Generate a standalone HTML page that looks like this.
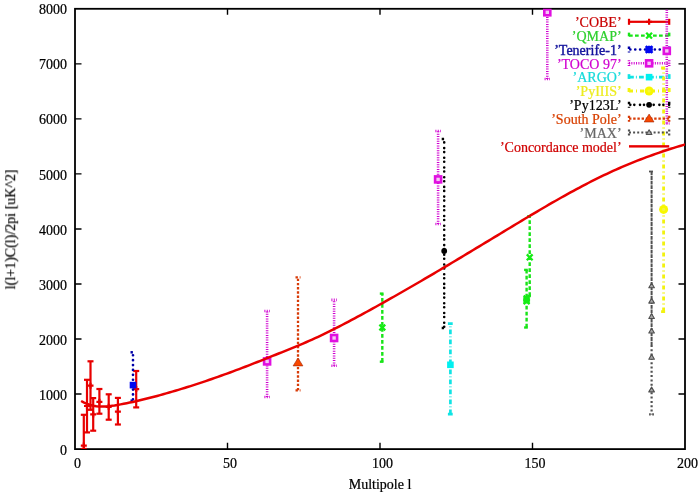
<!DOCTYPE html>
<html><head><meta charset="utf-8"><title>CMB power spectrum</title>
<style>html,body{margin:0;padding:0;background:#fff;}svg{display:block;}text{will-change:transform;}</style>
</head><body>
<svg width="700" height="496" viewBox="0 0 700 496">
<rect width="700" height="496" fill="#ffffff"/>
<defs><clipPath id="pc"><rect x="75.0" y="8.8" width="610.0" height="440.3"/></clipPath></defs>
<g stroke="#000" fill="none">
<path d="M75.0,394.06H81.5M685.0,394.06H678.5" stroke-width="1.4"/>
<path d="M75.0,339.03H81.5M685.0,339.03H678.5" stroke-width="1.4"/>
<path d="M75.0,283.99H81.5M685.0,283.99H678.5" stroke-width="1.4"/>
<path d="M75.0,228.95H81.5M685.0,228.95H678.5" stroke-width="1.4"/>
<path d="M75.0,173.91H81.5M685.0,173.91H678.5" stroke-width="1.4"/>
<path d="M75.0,118.88H81.5M685.0,118.88H678.5" stroke-width="1.4"/>
<path d="M75.0,63.84H81.5M685.0,63.84H678.5" stroke-width="1.4"/>
<path d="M227.50,449.1V442.8M227.50,8.8V14.8" stroke-width="1.4"/>
<path d="M380.00,449.1V442.8M380.00,8.8V14.8" stroke-width="1.4"/>
<path d="M532.50,449.1V442.8M532.50,8.8V14.8" stroke-width="1.4"/>
<rect x="75.0" y="8.8" width="610.0" height="440.3" stroke-width="1.8"/>
</g>
<g font-family='"Liberation Serif", serif' font-size="14" fill="#000" stroke="#000" stroke-width="0.22">
<text x="67.1" y="454.70" text-anchor="end">0</text>
<text x="67.1" y="399.66" text-anchor="end">1000</text>
<text x="67.1" y="344.63" text-anchor="end">2000</text>
<text x="67.1" y="289.59" text-anchor="end">3000</text>
<text x="67.1" y="234.55" text-anchor="end">4000</text>
<text x="67.1" y="179.51" text-anchor="end">5000</text>
<text x="67.1" y="124.47" text-anchor="end">6000</text>
<text x="67.1" y="69.44" text-anchor="end">7000</text>
<text x="67.1" y="14.40" text-anchor="end">8000</text>
<text x="77.40" y="468.0" text-anchor="middle">0</text>
<text x="229.90" y="468.0" text-anchor="middle">50</text>
<text x="382.40" y="468.0" text-anchor="middle">100</text>
<text x="534.90" y="468.0" text-anchor="middle">150</text>
<text x="687.40" y="468.0" text-anchor="middle">200</text>
<text x="380" y="488.6" text-anchor="middle">Multipole l</text>
<text transform="translate(15.2,229.4) rotate(-90)" x="0" y="0" text-anchor="middle">l(l+1)C(l)/2pi [uK^2]</text>
</g>
<text x="621.6" y="27.10" text-anchor="end" font-family='"Liberation Serif", serif' font-size="14" fill="#c80000" stroke="#c80000" stroke-width="0.22">’COBE’</text>
<rect x="629" y="20.7" width="40.2" height="2.2" fill="#e80000"/>
<rect x="627.9" y="18.8" width="2.2" height="6" fill="#e80000"/>
<rect x="668.1" y="18.8" width="2.2" height="6" fill="#e80000"/>
<path d="M646.1,21.8H652.1M649.1,18.8V24.8" stroke="#e80000" stroke-width="2.2" fill="none"/>
<g clip-path="url(#pc)">
<rect x="82.7" y="414.8" width="2.2" height="34.2" fill="#e80000"/>
<rect x="80.8" y="413.7" width="6" height="2.2" fill="#e80000"/>
<rect x="80.8" y="447.9" width="6" height="2.2" fill="#e80000"/>
<path d="M80.8,445.6H86.8M83.8,442.6V448.6" stroke="#e80000" stroke-width="2.2" fill="none"/>
<rect x="85.9" y="379.8" width="2.2" height="52.6" fill="#e80000"/>
<rect x="84" y="378.7" width="6" height="2.2" fill="#e80000"/>
<rect x="84" y="431.3" width="6" height="2.2" fill="#e80000"/>
<path d="M84,406H90M87,403V409" stroke="#e80000" stroke-width="2.2" fill="none"/>
<rect x="89.4" y="361.3" width="2.2" height="48.5" fill="#e80000"/>
<rect x="87.5" y="360.2" width="6" height="2.2" fill="#e80000"/>
<rect x="87.5" y="408.7" width="6" height="2.2" fill="#e80000"/>
<path d="M87.5,385.7H93.5M90.5,382.7V388.7" stroke="#e80000" stroke-width="2.2" fill="none"/>
<rect x="92.1" y="398.1" width="2.2" height="32.6" fill="#e80000"/>
<rect x="90.2" y="397" width="6" height="2.2" fill="#e80000"/>
<rect x="90.2" y="429.6" width="6" height="2.2" fill="#e80000"/>
<path d="M90.2,414.4H96.2M93.2,411.4V417.4" stroke="#e80000" stroke-width="2.2" fill="none"/>
<rect x="98.3" y="389" width="2.2" height="24.7" fill="#e80000"/>
<rect x="96.4" y="387.9" width="6" height="2.2" fill="#e80000"/>
<rect x="96.4" y="412.6" width="6" height="2.2" fill="#e80000"/>
<path d="M96.4,401.8H102.4M99.4,398.8V404.8" stroke="#e80000" stroke-width="2.2" fill="none"/>
<rect x="107.6" y="394.3" width="2.2" height="25.4" fill="#e80000"/>
<rect x="105.7" y="393.2" width="6" height="2.2" fill="#e80000"/>
<rect x="105.7" y="418.6" width="6" height="2.2" fill="#e80000"/>
<path d="M105.7,406.8H111.7M108.7,403.8V409.8" stroke="#e80000" stroke-width="2.2" fill="none"/>
<rect x="116.8" y="397.9" width="2.2" height="26.6" fill="#e80000"/>
<rect x="114.9" y="396.8" width="6" height="2.2" fill="#e80000"/>
<rect x="114.9" y="423.4" width="6" height="2.2" fill="#e80000"/>
<path d="M114.9,411.6H120.9M117.9,408.6V414.6" stroke="#e80000" stroke-width="2.2" fill="none"/>
<rect x="135.1" y="371" width="2.2" height="36.4" fill="#e80000"/>
<rect x="133.2" y="369.9" width="6" height="2.2" fill="#e80000"/>
<rect x="133.2" y="406.3" width="6" height="2.2" fill="#e80000"/>
<path d="M133.2,389.1H139.2M136.2,386.1V392.1" stroke="#e80000" stroke-width="2.2" fill="none"/>
</g>
<text x="621.6" y="40.94" text-anchor="end" font-family='"Liberation Serif", serif' font-size="14" fill="#2ed02e" stroke="#2ed02e" stroke-width="0.22">’QMAP’</text>
<path d="M629,34.44h3.7v2.4h-3.7zM635,34.44h3.7v2.4h-3.7zM641,34.44h3.7v2.4h-3.7zM647,34.44h3.7v2.4h-3.7zM653,34.44h3.7v2.4h-3.7zM659,34.44h3.7v2.4h-3.7zM665,34.44h3.7v2.4h-3.7z" fill="#18e418"/>
<path d="M627.8,32.64h2.4v3.7h-2.4z" fill="#18e418"/>
<path d="M668,32.64h2.4v3.7h-2.4z" fill="#18e418"/>
<path d="M646.2,32.74L652,38.54M646.2,38.54L652,32.74" stroke="#14ec14" stroke-width="2.3" fill="none"/>
<g clip-path="url(#pc)">
<path d="M381.1,358h2.4v3.7h-2.4zM381.1,352h2.4v3.7h-2.4zM381.1,346h2.4v3.7h-2.4zM381.1,340h2.4v3.7h-2.4zM381.1,334h2.4v3.7h-2.4zM381.1,328h2.4v3.7h-2.4zM381.1,322h2.4v3.7h-2.4zM381.1,316h2.4v3.7h-2.4zM381.1,310h2.4v3.7h-2.4zM381.1,304h2.4v3.7h-2.4zM381.1,298h2.4v3.7h-2.4zM381.1,293.6h2.4v2.1h-2.4z" fill="#18e418"/>
<path d="M379.8,292.4h3.7v2.4h-3.7z" fill="#18e418"/>
<path d="M379.8,360.5h3.7v2.4h-3.7z" fill="#18e418"/>
<path d="M379.4,324.6L385.2,330.4M379.4,330.4L385.2,324.6" stroke="#14ec14" stroke-width="2.3" fill="none"/>
<path d="M528.5,292.3h2.4v3.7h-2.4zM528.5,286.3h2.4v3.7h-2.4zM528.5,280.3h2.4v3.7h-2.4zM528.5,274.3h2.4v3.7h-2.4zM528.5,268.3h2.4v3.7h-2.4zM528.5,262.3h2.4v3.7h-2.4zM528.5,256.3h2.4v3.7h-2.4zM528.5,250.3h2.4v3.7h-2.4zM528.5,244.3h2.4v3.7h-2.4zM528.5,238.3h2.4v3.7h-2.4zM528.5,232.3h2.4v3.7h-2.4zM528.5,226.3h2.4v3.7h-2.4zM528.5,220.3h2.4v3.7h-2.4zM528.5,216.3h2.4v1.7h-2.4z" fill="#18e418"/>
<path d="M527.2,215.1h3.7v2.4h-3.7z" fill="#18e418"/>
<path d="M527.2,294.8h3.7v2.4h-3.7z" fill="#18e418"/>
<path d="M526.8,254.4L532.6,260.2M526.8,260.2L532.6,254.4" stroke="#14ec14" stroke-width="2.3" fill="none"/>
<path d="M525.4,323.8h2.4v3.7h-2.4zM525.4,317.8h2.4v3.7h-2.4zM525.4,311.8h2.4v3.7h-2.4zM525.4,305.8h2.4v3.7h-2.4zM525.4,299.8h2.4v3.7h-2.4zM525.4,293.8h2.4v3.7h-2.4zM525.4,287.8h2.4v3.7h-2.4zM525.4,281.8h2.4v3.7h-2.4zM525.4,275.8h2.4v3.7h-2.4zM525.4,269.9h2.4v3.6h-2.4z" fill="#18e418"/>
<path d="M524.1,268.7h3.7v2.4h-3.7z" fill="#18e418"/>
<path d="M524.1,326.3h3.7v2.4h-3.7z" fill="#18e418"/>
<path d="M523.7,297.1L529.5,302.9M523.7,302.9L529.5,297.1" stroke="#14ec14" stroke-width="2.3" fill="none"/>
</g>
<text x="621.6" y="54.78" text-anchor="end" font-family='"Liberation Serif", serif' font-size="14" fill="#12129c" stroke="#12129c" stroke-width="0.4">’Tenerife-1’</text>
<path d="M630.35,49.48h0M635.25,49.48h0M640.15,49.48h0M645.05,49.48h0M649.95,49.48h0M654.85,49.48h0M659.75,49.48h0M664.65,49.48h0" stroke="#0000a8" stroke-width="2.7" stroke-linecap="round" fill="none"/>
<path d="M627.75,46.48h2.5v2.4h-2.5zM627.75,51.48h2.5v1h-2.5z" fill="#0000a8"/>
<path d="M667.95,46.48h2.5v2.4h-2.5zM667.95,51.48h2.5v1h-2.5z" fill="#0000a8"/>
<path d="M645.7,46.08L652.5,52.88M645.7,52.88L652.5,46.08M645.3,49.48H652.9M649.1,45.68V53.28" stroke="#0008f0" stroke-width="2.5" fill="none"/><rect x="646.5" y="46.88" width="5.2" height="5.2" fill="#0008f0"/>
<g clip-path="url(#pc)">
<path d="M133,399.35h0M133,394.45h0M133,389.55h0M133,384.65h0M133,379.75h0M133,374.85h0M133,369.95h0M133,365.05h0M133,360.15h0M133,355.25h0" stroke="#0000a8" stroke-width="2.7" stroke-linecap="round" fill="none"/>
<path d="M130.5,351.05h2.4v2.5h-2.4z" fill="#0000a8"/>
<path d="M130.5,399.45h2.4v2.5h-2.4z" fill="#0000a8"/>
<rect x="129.7" y="381.8" width="6.6" height="6.6" fill="#0008f0"/>
</g>
<text x="621.6" y="68.62" text-anchor="end" font-family='"Liberation Serif", serif' font-size="14" fill="#d000d0" stroke="#d000d0" stroke-width="0.22">’TOCO 97’</text>
<path d="M629,62.02h1v2.6h-1zM631.35,62.02h1v2.6h-1zM633.7,62.02h1v2.6h-1zM636.05,62.02h1v2.6h-1zM638.4,62.02h1v2.6h-1zM640.75,62.02h1v2.6h-1zM643.1,62.02h1v2.6h-1zM645.45,62.02h1v2.6h-1zM647.8,62.02h1v2.6h-1zM650.15,62.02h1v2.6h-1zM652.5,62.02h1v2.6h-1zM654.85,62.02h1v2.6h-1zM657.2,62.02h1v2.6h-1zM659.55,62.02h1v2.6h-1zM661.9,62.02h1v2.6h-1zM664.25,62.02h1v2.6h-1zM666.6,62.02h1v2.6h-1zM668.95,62.02h0.25v2.6h-0.25z" fill="#d000d0"/>
<path d="M627.7,60.32h2.6v1h-2.6zM627.7,62.67h2.6v1h-2.6zM627.7,65.02h2.6v1h-2.6z" fill="#d000d0"/>
<path d="M667.9,60.32h2.6v1h-2.6zM667.9,62.67h2.6v1h-2.6zM667.9,65.02h2.6v1h-2.6z" fill="#d000d0"/>
<rect x="646.1" y="60.32" width="6" height="6" stroke="#e010e0" stroke-width="2.6" fill="#f4c8f4"/>
<g clip-path="url(#pc)">
<path d="M265.8,396h2.6v1h-2.6zM265.8,393.65h2.6v1h-2.6zM265.8,391.3h2.6v1h-2.6zM265.8,388.95h2.6v1h-2.6zM265.8,386.6h2.6v1h-2.6zM265.8,384.25h2.6v1h-2.6zM265.8,381.9h2.6v1h-2.6zM265.8,379.55h2.6v1h-2.6zM265.8,377.2h2.6v1h-2.6zM265.8,374.85h2.6v1h-2.6zM265.8,372.5h2.6v1h-2.6zM265.8,370.15h2.6v1h-2.6zM265.8,367.8h2.6v1h-2.6zM265.8,365.45h2.6v1h-2.6zM265.8,363.1h2.6v1h-2.6zM265.8,360.75h2.6v1h-2.6zM265.8,358.4h2.6v1h-2.6zM265.8,356.05h2.6v1h-2.6zM265.8,353.7h2.6v1h-2.6zM265.8,351.35h2.6v1h-2.6zM265.8,349h2.6v1h-2.6zM265.8,346.65h2.6v1h-2.6zM265.8,344.3h2.6v1h-2.6zM265.8,341.95h2.6v1h-2.6zM265.8,339.6h2.6v1h-2.6zM265.8,337.25h2.6v1h-2.6zM265.8,334.9h2.6v1h-2.6zM265.8,332.55h2.6v1h-2.6zM265.8,330.2h2.6v1h-2.6zM265.8,327.85h2.6v1h-2.6zM265.8,325.5h2.6v1h-2.6zM265.8,323.15h2.6v1h-2.6zM265.8,320.8h2.6v1h-2.6zM265.8,318.45h2.6v1h-2.6zM265.8,316.1h2.6v1h-2.6zM265.8,313.75h2.6v1h-2.6zM265.8,311.4h2.6v1h-2.6z" fill="#d000d0"/>
<path d="M264.4,309.7h1v2.6h-1zM266.75,309.7h1v2.6h-1zM269.1,309.7h0.7v2.6h-0.7z" fill="#d000d0"/>
<path d="M264.4,395.7h1v2.6h-1zM266.75,395.7h1v2.6h-1zM269.1,395.7h0.7v2.6h-0.7z" fill="#d000d0"/>
<rect x="264.1" y="358.4" width="6" height="6" stroke="#e010e0" stroke-width="2.6" fill="#f4c8f4"/>
<path d="M332.8,364.8h2.6v1h-2.6zM332.8,362.45h2.6v1h-2.6zM332.8,360.1h2.6v1h-2.6zM332.8,357.75h2.6v1h-2.6zM332.8,355.4h2.6v1h-2.6zM332.8,353.05h2.6v1h-2.6zM332.8,350.7h2.6v1h-2.6zM332.8,348.35h2.6v1h-2.6zM332.8,346h2.6v1h-2.6zM332.8,343.65h2.6v1h-2.6zM332.8,341.3h2.6v1h-2.6zM332.8,338.95h2.6v1h-2.6zM332.8,336.6h2.6v1h-2.6zM332.8,334.25h2.6v1h-2.6zM332.8,331.9h2.6v1h-2.6zM332.8,329.55h2.6v1h-2.6zM332.8,327.2h2.6v1h-2.6zM332.8,324.85h2.6v1h-2.6zM332.8,322.5h2.6v1h-2.6zM332.8,320.15h2.6v1h-2.6zM332.8,317.8h2.6v1h-2.6zM332.8,315.45h2.6v1h-2.6zM332.8,313.1h2.6v1h-2.6zM332.8,310.75h2.6v1h-2.6zM332.8,308.4h2.6v1h-2.6zM332.8,306.05h2.6v1h-2.6zM332.8,303.7h2.6v1h-2.6zM332.8,301.35h2.6v1h-2.6zM332.8,299.9h2.6v0.1h-2.6z" fill="#d000d0"/>
<path d="M331.4,298.6h1v2.6h-1zM333.75,298.6h1v2.6h-1zM336.1,298.6h0.7v2.6h-0.7z" fill="#d000d0"/>
<path d="M331.4,364.5h1v2.6h-1zM333.75,364.5h1v2.6h-1zM336.1,364.5h0.7v2.6h-0.7z" fill="#d000d0"/>
<rect x="331.1" y="335" width="6" height="6" stroke="#e010e0" stroke-width="2.6" fill="#f4c8f4"/>
<path d="M436.8,223h2.6v1h-2.6zM436.8,220.65h2.6v1h-2.6zM436.8,218.3h2.6v1h-2.6zM436.8,215.95h2.6v1h-2.6zM436.8,213.6h2.6v1h-2.6zM436.8,211.25h2.6v1h-2.6zM436.8,208.9h2.6v1h-2.6zM436.8,206.55h2.6v1h-2.6zM436.8,204.2h2.6v1h-2.6zM436.8,201.85h2.6v1h-2.6zM436.8,199.5h2.6v1h-2.6zM436.8,197.15h2.6v1h-2.6zM436.8,194.8h2.6v1h-2.6zM436.8,192.45h2.6v1h-2.6zM436.8,190.1h2.6v1h-2.6zM436.8,187.75h2.6v1h-2.6zM436.8,185.4h2.6v1h-2.6zM436.8,183.05h2.6v1h-2.6zM436.8,180.7h2.6v1h-2.6zM436.8,178.35h2.6v1h-2.6zM436.8,176h2.6v1h-2.6zM436.8,173.65h2.6v1h-2.6zM436.8,171.3h2.6v1h-2.6zM436.8,168.95h2.6v1h-2.6zM436.8,166.6h2.6v1h-2.6zM436.8,164.25h2.6v1h-2.6zM436.8,161.9h2.6v1h-2.6zM436.8,159.55h2.6v1h-2.6zM436.8,157.2h2.6v1h-2.6zM436.8,154.85h2.6v1h-2.6zM436.8,152.5h2.6v1h-2.6zM436.8,150.15h2.6v1h-2.6zM436.8,147.8h2.6v1h-2.6zM436.8,145.45h2.6v1h-2.6zM436.8,143.1h2.6v1h-2.6zM436.8,140.75h2.6v1h-2.6zM436.8,138.4h2.6v1h-2.6zM436.8,136.05h2.6v1h-2.6zM436.8,133.7h2.6v1h-2.6zM436.8,131.35h2.6v1h-2.6z" fill="#d000d0"/>
<path d="M435.4,129.7h1v2.6h-1zM437.75,129.7h1v2.6h-1zM440.1,129.7h0.7v2.6h-0.7z" fill="#d000d0"/>
<path d="M435.4,222.7h1v2.6h-1zM437.75,222.7h1v2.6h-1zM440.1,222.7h0.7v2.6h-0.7z" fill="#d000d0"/>
<rect x="435.1" y="176.4" width="6" height="6" stroke="#e010e0" stroke-width="2.6" fill="#f4c8f4"/>
<path d="M546,78h2.6v1h-2.6zM546,75.65h2.6v1h-2.6zM546,73.3h2.6v1h-2.6zM546,70.95h2.6v1h-2.6zM546,68.6h2.6v1h-2.6zM546,66.25h2.6v1h-2.6zM546,63.9h2.6v1h-2.6zM546,61.55h2.6v1h-2.6zM546,59.2h2.6v1h-2.6zM546,56.85h2.6v1h-2.6zM546,54.5h2.6v1h-2.6zM546,52.15h2.6v1h-2.6zM546,49.8h2.6v1h-2.6zM546,47.45h2.6v1h-2.6zM546,45.1h2.6v1h-2.6zM546,42.75h2.6v1h-2.6zM546,40.4h2.6v1h-2.6zM546,38.05h2.6v1h-2.6zM546,35.7h2.6v1h-2.6zM546,33.35h2.6v1h-2.6zM546,31h2.6v1h-2.6zM546,28.65h2.6v1h-2.6zM546,26.3h2.6v1h-2.6zM546,23.95h2.6v1h-2.6zM546,21.6h2.6v1h-2.6zM546,19.25h2.6v1h-2.6zM546,16.9h2.6v1h-2.6zM546,14.55h2.6v1h-2.6zM546,12.2h2.6v1h-2.6zM546,9.85h2.6v1h-2.6z" fill="#d000d0"/>
<path d="M544.6,77.7h1v2.6h-1zM546.95,77.7h1v2.6h-1zM549.3,77.7h0.7v2.6h-0.7z" fill="#d000d0"/>
<rect x="544.3" y="9.3" width="6" height="6" stroke="#e010e0" stroke-width="2.6" fill="#f4c8f4"/>
<path d="M665.5,122.5h2.6v1h-2.6zM665.5,120.15h2.6v1h-2.6zM665.5,117.8h2.6v1h-2.6zM665.5,115.45h2.6v1h-2.6zM665.5,113.1h2.6v1h-2.6zM665.5,110.75h2.6v1h-2.6zM665.5,108.4h2.6v1h-2.6zM665.5,106.05h2.6v1h-2.6zM665.5,103.7h2.6v1h-2.6zM665.5,101.35h2.6v1h-2.6zM665.5,99h2.6v1h-2.6zM665.5,96.65h2.6v1h-2.6zM665.5,94.3h2.6v1h-2.6zM665.5,91.95h2.6v1h-2.6zM665.5,89.6h2.6v1h-2.6zM665.5,87.25h2.6v1h-2.6zM665.5,84.9h2.6v1h-2.6zM665.5,82.55h2.6v1h-2.6zM665.5,80.2h2.6v1h-2.6zM665.5,77.85h2.6v1h-2.6zM665.5,75.5h2.6v1h-2.6zM665.5,73.15h2.6v1h-2.6zM665.5,70.8h2.6v1h-2.6zM665.5,68.45h2.6v1h-2.6zM665.5,66.1h2.6v1h-2.6zM665.5,63.75h2.6v1h-2.6zM665.5,61.4h2.6v1h-2.6zM665.5,59.05h2.6v1h-2.6zM665.5,56.7h2.6v1h-2.6zM665.5,54.35h2.6v1h-2.6zM665.5,52h2.6v1h-2.6zM665.5,49.65h2.6v1h-2.6zM665.5,47.3h2.6v1h-2.6zM665.5,44.95h2.6v1h-2.6zM665.5,42.6h2.6v1h-2.6zM665.5,40.25h2.6v1h-2.6zM665.5,37.9h2.6v1h-2.6zM665.5,35.55h2.6v1h-2.6zM665.5,33.2h2.6v1h-2.6zM665.5,30.85h2.6v1h-2.6zM665.5,28.5h2.6v1h-2.6zM665.5,26.15h2.6v1h-2.6zM665.5,23.8h2.6v1h-2.6zM665.5,21.45h2.6v1h-2.6zM665.5,19.1h2.6v1h-2.6zM665.5,16.75h2.6v1h-2.6zM665.5,14.4h2.6v1h-2.6zM665.5,12.05h2.6v1h-2.6zM665.5,9.7h2.6v1h-2.6z" fill="#d000d0"/>
<path d="M664.1,122.2h1v2.6h-1zM666.45,122.2h1v2.6h-1zM668.8,122.2h0.7v2.6h-0.7z" fill="#d000d0"/>
<rect x="663.8" y="47.9" width="6" height="6" stroke="#e010e0" stroke-width="2.6" fill="#f4c8f4"/>
</g>
<text x="621.6" y="82.46" text-anchor="end" font-family='"Liberation Serif", serif' font-size="14" fill="#18dada" stroke="#18dada" stroke-width="0.22">’ARGO’</text>
<path d="M629,75.81h4.8v2.7h-4.8zM635.9,75.81h0.9v2.7h-0.9zM639,75.81h4.8v2.7h-4.8zM645.9,75.81h0.9v2.7h-0.9zM649,75.81h4.8v2.7h-4.8zM655.9,75.81h0.9v2.7h-0.9zM659,75.81h4.8v2.7h-4.8zM665.9,75.81h0.9v2.7h-0.9zM669,75.81h0.2v2.7h-0.2z" fill="#10e4e4"/>
<path d="M627.65,74.16h2.7v4.8h-2.7z" fill="#10e4e4"/>
<path d="M667.85,74.16h2.7v4.8h-2.7z" fill="#10e4e4"/>
<rect x="645.8" y="73.86" width="6.6" height="6.6" fill="#00f0f0"/>
<g clip-path="url(#pc)">
<path d="M449.05,409.4h2.7v4.8h-2.7zM449.05,406.4h2.7v0.9h-2.7zM449.05,399.4h2.7v4.8h-2.7zM449.05,396.4h2.7v0.9h-2.7zM449.05,389.4h2.7v4.8h-2.7zM449.05,386.4h2.7v0.9h-2.7zM449.05,379.4h2.7v4.8h-2.7zM449.05,376.4h2.7v0.9h-2.7zM449.05,369.4h2.7v4.8h-2.7zM449.05,366.4h2.7v0.9h-2.7zM449.05,359.4h2.7v4.8h-2.7zM449.05,356.4h2.7v0.9h-2.7zM449.05,349.4h2.7v4.8h-2.7zM449.05,346.4h2.7v0.9h-2.7zM449.05,339.4h2.7v4.8h-2.7zM449.05,336.4h2.7v0.9h-2.7zM449.05,329.4h2.7v4.8h-2.7zM449.05,326.4h2.7v0.9h-2.7zM449.05,323.7h2.7v0.5h-2.7z" fill="#10e4e4"/>
<path d="M447.9,322.35h4.8v2.7h-4.8z" fill="#10e4e4"/>
<path d="M447.9,412.85h4.8v2.7h-4.8z" fill="#10e4e4"/>
<rect x="447.1" y="361.5" width="6.6" height="6.6" fill="#00f0f0"/>
</g>
<text x="621.6" y="96.30" text-anchor="end" font-family='"Liberation Serif", serif' font-size="14" fill="#ecec20" stroke="#ecec20" stroke-width="0.22">’PyIIIS’</text>
<path d="M629,89.6h4v2.8h-4zM636,89.6h1v2.8h-1zM640,89.6h4v2.8h-4zM647,89.6h1v2.8h-1zM651,89.6h4v2.8h-4zM658,89.6h1v2.8h-1zM662,89.6h4v2.8h-4zM669,89.6h0.2v2.8h-0.2z" fill="#f2f210"/>
<path d="M627.6,88h2.8v4h-2.8z" fill="#f2f210"/>
<path d="M667.8,88h2.8v4h-2.8z" fill="#f2f210"/>
<circle cx="649.1" cy="91" r="4.5" fill="#f8f800"/><circle cx="649.1" cy="91" r="1.6" fill="#f4f440"/>
<g clip-path="url(#pc)">
<path d="M662.2,307.6h2.8v4h-2.8zM662.2,303.6h2.8v1h-2.8zM662.2,296.6h2.8v4h-2.8zM662.2,292.6h2.8v1h-2.8zM662.2,285.6h2.8v4h-2.8zM662.2,281.6h2.8v1h-2.8zM662.2,274.6h2.8v4h-2.8zM662.2,270.6h2.8v1h-2.8zM662.2,263.6h2.8v4h-2.8zM662.2,259.6h2.8v1h-2.8zM662.2,252.6h2.8v4h-2.8zM662.2,248.6h2.8v1h-2.8zM662.2,241.6h2.8v4h-2.8zM662.2,237.6h2.8v1h-2.8zM662.2,230.6h2.8v4h-2.8zM662.2,226.6h2.8v1h-2.8zM662.2,219.6h2.8v4h-2.8zM662.2,215.6h2.8v1h-2.8zM662.2,208.6h2.8v4h-2.8zM662.2,204.6h2.8v1h-2.8zM662.2,197.6h2.8v4h-2.8zM662.2,193.6h2.8v1h-2.8zM662.2,186.6h2.8v4h-2.8zM662.2,182.6h2.8v1h-2.8zM662.2,175.6h2.8v4h-2.8zM662.2,171.6h2.8v1h-2.8zM662.2,164.6h2.8v4h-2.8zM662.2,160.6h2.8v1h-2.8zM662.2,153.6h2.8v4h-2.8zM662.2,149.6h2.8v1h-2.8zM662.2,142.6h2.8v4h-2.8zM662.2,138.6h2.8v1h-2.8zM662.2,131.6h2.8v4h-2.8zM662.2,127.6h2.8v1h-2.8zM662.2,120.6h2.8v4h-2.8zM662.2,116.6h2.8v1h-2.8zM662.2,109.6h2.8v4h-2.8zM662.2,105.6h2.8v1h-2.8zM662.2,98.6h2.8v4h-2.8zM662.2,94.6h2.8v1h-2.8zM662.2,87.6h2.8v4h-2.8zM662.2,83.6h2.8v1h-2.8zM662.2,76.6h2.8v4h-2.8zM662.2,72.6h2.8v1h-2.8zM662.2,68h2.8v1.6h-2.8z" fill="#f2f210"/>
<path d="M661.1,66.6h4v2.8h-4z" fill="#f2f210"/>
<path d="M661.1,310.2h4v2.8h-4z" fill="#f2f210"/>
<circle cx="663.6" cy="209.4" r="4.5" fill="#f8f800"/><circle cx="663.6" cy="209.4" r="1.6" fill="#f4f440"/>
</g>
<text x="621.6" y="110.14" text-anchor="end" font-family='"Liberation Serif", serif' font-size="14" fill="#000000" stroke="#000000" stroke-width="0.22">’Py123L’</text>
<path d="M630.3,104.84h0M634.3,104.84h0M640,104.84h0M644,104.84h0M649.7,104.84h0M653.7,104.84h0M659.4,104.84h0M663.4,104.84h0M669.1,104.84h0" stroke="#000000" stroke-width="2.6" stroke-linecap="round" fill="none"/>
<path d="M627.8,101.84h2.4v2.4h-2.4zM627.8,106.84h2.4v1h-2.4z" fill="#000000"/>
<path d="M668,101.84h2.4v2.4h-2.4zM668,106.84h2.4v1h-2.4z" fill="#000000"/>
<circle cx="649.1" cy="104.84" r="2.9" fill="#000000"/>
<g clip-path="url(#pc)">
<path d="M444.2,326.7h0M444.2,322.7h0M444.2,317h0M444.2,313h0M444.2,307.3h0M444.2,303.3h0M444.2,297.6h0M444.2,293.6h0M444.2,287.9h0M444.2,283.9h0M444.2,278.2h0M444.2,274.2h0M444.2,268.5h0M444.2,264.5h0M444.2,258.8h0M444.2,254.8h0M444.2,249.1h0M444.2,245.1h0M444.2,239.4h0M444.2,235.4h0M444.2,229.7h0M444.2,225.7h0M444.2,220h0M444.2,216h0M444.2,210.3h0M444.2,206.3h0M444.2,200.6h0M444.2,196.6h0M444.2,190.9h0M444.2,186.9h0M444.2,181.2h0M444.2,177.2h0M444.2,171.5h0M444.2,167.5h0M444.2,161.8h0M444.2,157.8h0M444.2,152.1h0M444.2,148.1h0M444.2,142.4h0" stroke="#000000" stroke-width="2.6" stroke-linecap="round" fill="none"/>
<path d="M441.7,137.8h2.4v2.4h-2.4z" fill="#000000"/>
<path d="M441.7,326.8h2.4v2.4h-2.4z" fill="#000000"/>
<circle cx="444.2" cy="251" r="2.9" fill="#000000"/>
</g>
<text x="621.6" y="123.98" text-anchor="end" font-family='"Liberation Serif", serif' font-size="14" fill="#d84000" stroke="#d84000" stroke-width="0.22">’South Pole’</text>
<path d="M629,117.53h2.4v2.3h-2.4zM633.2,117.53h2.4v2.3h-2.4zM637.4,117.53h2.4v2.3h-2.4zM641.6,117.53h2.4v2.3h-2.4zM645.8,117.53h2.4v2.3h-2.4zM650,117.53h2.4v2.3h-2.4zM654.2,117.53h2.4v2.3h-2.4zM658.4,117.53h2.4v2.3h-2.4zM662.6,117.53h2.4v2.3h-2.4zM666.8,117.53h2.4v2.3h-2.4z" fill="#d83c08"/>
<path d="M627.85,115.68h2.3v2.4h-2.3zM627.85,119.88h2.3v1.8h-2.3z" fill="#d83c08"/>
<path d="M668.05,115.68h2.3v2.4h-2.3zM668.05,119.88h2.3v1.8h-2.3z" fill="#d83c08"/>
<path d="M649.1,114.08L654,121.98L644.2,121.98Z" fill="#f84800" stroke="#a02000" stroke-width="0.6"/>
<g clip-path="url(#pc)">
<path d="M296.85,387.9h2.3v2.4h-2.3zM296.85,383.7h2.3v2.4h-2.3zM296.85,379.5h2.3v2.4h-2.3zM296.85,375.3h2.3v2.4h-2.3zM296.85,371.1h2.3v2.4h-2.3zM296.85,366.9h2.3v2.4h-2.3zM296.85,362.7h2.3v2.4h-2.3zM296.85,358.5h2.3v2.4h-2.3zM296.85,354.3h2.3v2.4h-2.3zM296.85,350.1h2.3v2.4h-2.3zM296.85,345.9h2.3v2.4h-2.3zM296.85,341.7h2.3v2.4h-2.3zM296.85,337.5h2.3v2.4h-2.3zM296.85,333.3h2.3v2.4h-2.3zM296.85,329.1h2.3v2.4h-2.3zM296.85,324.9h2.3v2.4h-2.3zM296.85,320.7h2.3v2.4h-2.3zM296.85,316.5h2.3v2.4h-2.3zM296.85,312.3h2.3v2.4h-2.3zM296.85,308.1h2.3v2.4h-2.3zM296.85,303.9h2.3v2.4h-2.3zM296.85,299.7h2.3v2.4h-2.3zM296.85,295.5h2.3v2.4h-2.3zM296.85,291.3h2.3v2.4h-2.3zM296.85,287.1h2.3v2.4h-2.3zM296.85,282.9h2.3v2.4h-2.3zM296.85,278.7h2.3v2.4h-2.3z" fill="#d83c08"/>
<path d="M295.5,276.15h2.4v2.3h-2.4zM299.7,276.15h0.8v2.3h-0.8z" fill="#d83c08"/>
<path d="M295.5,389.15h2.4v2.3h-2.4zM299.7,389.15h0.8v2.3h-0.8z" fill="#d83c08"/>
<path d="M298,358L302.9,365.9L293.1,365.9Z" fill="#f84800" stroke="#a02000" stroke-width="0.6"/>
</g>
<text x="621.6" y="137.82" text-anchor="end" font-family='"Liberation Serif", serif' font-size="14" fill="#686868" stroke="#686868" stroke-width="0.22">’MAX’</text>
<path d="M629,131.42h2v2.2h-2zM633.1,131.42h2v2.2h-2zM637.2,131.42h2v2.2h-2zM641.3,131.42h2v2.2h-2zM645.4,131.42h2v2.2h-2zM649.5,131.42h2v2.2h-2zM653.6,131.42h2v2.2h-2zM657.7,131.42h2v2.2h-2zM661.8,131.42h2v2.2h-2zM665.9,131.42h2v2.2h-2z" fill="#505050"/>
<path d="M627.9,129.52h2.2v2h-2.2zM627.9,133.62h2.2v1.9h-2.2z" fill="#505050"/>
<path d="M668.1,129.52h2.2v2h-2.2zM668.1,133.62h2.2v1.9h-2.2z" fill="#505050"/>
<path d="M649.1,129.72L651.9,134.52L646.3,134.52Z" fill="#a8a8a8" stroke="#505050" stroke-width="1.1" stroke-linejoin="round"/>
<g clip-path="url(#pc)">
<path d="M650.6,171.5h2v3.8h-2zM650.6,176.1h2v3.8h-2zM650.6,180.7h2v3.8h-2zM650.6,185.3h2v3.8h-2zM650.6,189.9h2v3.8h-2zM650.6,194.5h2v3.8h-2zM650.6,199.1h2v3.8h-2zM650.6,203.7h2v3.8h-2zM650.6,208.3h2v3.8h-2zM650.6,212.9h2v3.8h-2zM650.6,217.5h2v3.8h-2zM650.6,222.1h2v3.8h-2zM650.6,226.7h2v3.8h-2zM650.6,231.3h2v3.8h-2zM650.6,235.9h2v3.8h-2zM650.6,240.5h2v3.8h-2zM650.6,245.1h2v3.8h-2zM650.6,249.7h2v3.8h-2zM650.6,254.3h2v3.8h-2zM650.6,258.9h2v3.8h-2zM650.6,263.5h2v3.8h-2zM650.6,268.1h2v3.8h-2zM650.6,272.7h2v3.8h-2zM650.6,277.3h2v3.8h-2zM650.6,281.9h2v3.8h-2zM650.6,286.5h2v3.8h-2zM650.6,291.1h2v3.8h-2zM650.6,295.7h2v3.8h-2zM650.6,300.3h2v3.8h-2zM650.6,304.9h2v3.8h-2zM650.6,309.5h2v3.8h-2zM650.6,314.1h2v3.8h-2zM650.6,318.7h2v3.8h-2zM650.6,323.3h2v3.8h-2zM650.6,327.9h2v3.8h-2zM650.6,332.5h2v3.8h-2zM650.6,337.1h2v3.8h-2zM650.6,341.7h2v3.3h-2z" fill="#505050"/>
<path d="M650.5,345h2.2v2h-2.2zM650.5,349.3h2.2v2h-2.2zM650.5,353.6h2.2v2h-2.2zM650.5,357.9h2.2v2h-2.2zM650.5,362.2h2.2v2h-2.2zM650.5,366.5h2.2v2h-2.2zM650.5,370.8h2.2v2h-2.2zM650.5,375.1h2.2v2h-2.2zM650.5,379.4h2.2v2h-2.2zM650.5,383.7h2.2v2h-2.2zM650.5,388h2.2v2h-2.2zM650.5,392.3h2.2v2h-2.2zM650.5,396.6h2.2v2h-2.2zM650.5,400.9h2.2v2h-2.2zM650.5,405.2h2.2v2h-2.2zM650.5,409.5h2.2v2h-2.2zM650.5,413.8h2.2v0.6h-2.2z" fill="#505050"/>
<rect x="649" y="170.6" width="4" height="1.8" fill="#505050"/>
<path d="M649.1,413.3h1.6v2.2h-1.6zM652.3,413.3h1.6v2.2h-1.6z" fill="#505050"/>
<path d="M651.6,283L654.4,287.8L648.8,287.8Z" fill="#a8a8a8" stroke="#505050" stroke-width="1.1" stroke-linejoin="round"/>
<path d="M651.6,298.3L654.4,303.1L648.8,303.1Z" fill="#a8a8a8" stroke="#505050" stroke-width="1.1" stroke-linejoin="round"/>
<path d="M651.6,313.7L654.4,318.5L648.8,318.5Z" fill="#a8a8a8" stroke="#505050" stroke-width="1.1" stroke-linejoin="round"/>
<path d="M651.6,328.2L654.4,333L648.8,333Z" fill="#a8a8a8" stroke="#505050" stroke-width="1.1" stroke-linejoin="round"/>
<path d="M651.6,354.4L654.4,359.2L648.8,359.2Z" fill="#a8a8a8" stroke="#505050" stroke-width="1.1" stroke-linejoin="round"/>
<path d="M651.6,387.1L654.4,391.9L648.8,391.9Z" fill="#a8a8a8" stroke="#505050" stroke-width="1.1" stroke-linejoin="round"/>
</g>
<path d="M523.7,295.5L529.5,301.3M523.7,301.3L529.5,295.5" stroke="#14ec14" stroke-width="2.3" fill="none"/>
<path d="M523.7,298.5L529.5,304.3M523.7,304.3L529.5,298.5" stroke="#14ec14" stroke-width="2.3" fill="none"/>
<path d="M523.6,299.9H529.6" stroke="#14ec14" stroke-width="2.4"/>
<text x="621.6" y="151.66" text-anchor="end" font-family='"Liberation Serif", serif' font-size="14" fill="#d00000" stroke="#d00000" stroke-width="0.22">’Concordance model’</text>
<rect x="629" y="145.16" width="40.2" height="2.4" fill="#e80000"/>
<path d="M81.10,400.98 L84.14,402.62 L87.18,403.93 L90.22,404.95 L93.26,405.69 L96.30,406.18 L99.34,406.45 L102.38,406.53 L105.42,406.43 L108.46,406.20 L111.50,405.85 L114.54,405.41 L117.58,404.90 L120.62,404.36 L123.66,403.79 L126.70,403.19 L129.74,402.56 L132.77,401.91 L135.81,401.23 L138.85,400.53 L141.89,399.81 L144.93,399.07 L147.97,398.31 L151.01,397.53 L154.05,396.73 L157.09,395.92 L160.13,395.09 L163.17,394.25 L166.21,393.40 L169.25,392.53 L172.29,391.65 L175.33,390.75 L178.37,389.84 L181.41,388.92 L184.45,387.98 L187.49,387.04 L190.53,386.08 L193.57,385.10 L196.61,384.11 L199.65,383.12 L202.69,382.10 L205.73,381.08 L208.77,380.04 L211.81,379.00 L214.85,377.94 L217.89,376.86 L220.93,375.78 L223.97,374.68 L227.01,373.58 L230.05,372.46 L233.08,371.33 L236.12,370.19 L239.16,369.05 L242.20,367.89 L245.24,366.73 L248.28,365.55 L251.32,364.38 L254.36,363.19 L257.40,362.00 L260.44,360.80 L263.48,359.60 L266.52,358.39 L269.56,357.18 L272.60,355.96 L275.64,354.74 L278.68,353.52 L281.72,352.30 L284.76,351.07 L287.80,349.84 L290.84,348.61 L293.88,347.36 L296.92,346.11 L299.96,344.84 L303.00,343.55 L306.04,342.25 L309.08,340.92 L312.12,339.58 L315.16,338.20 L318.20,336.80 L321.24,335.37 L324.28,333.91 L327.32,332.44 L330.36,330.94 L333.39,329.42 L336.43,327.87 L339.47,326.32 L342.51,324.74 L345.55,323.15 L348.59,321.55 L351.63,319.94 L354.67,318.31 L357.71,316.68 L360.75,315.04 L363.79,313.39 L366.83,311.73 L369.87,310.07 L372.91,308.40 L375.95,306.72 L378.99,305.03 L382.03,303.33 L385.07,301.63 L388.11,299.92 L391.15,298.21 L394.19,296.49 L397.23,294.76 L400.27,293.03 L403.31,291.29 L406.35,289.54 L409.39,287.79 L412.43,286.03 L415.47,284.27 L418.51,282.50 L421.55,280.73 L424.59,278.95 L427.63,277.17 L430.67,275.39 L433.71,273.60 L436.74,271.80 L439.78,270.00 L442.82,268.20 L445.86,266.40 L448.90,264.59 L451.94,262.78 L454.98,260.96 L458.02,259.14 L461.06,257.32 L464.10,255.50 L467.14,253.67 L470.18,251.84 L473.22,250.01 L476.26,248.18 L479.30,246.35 L482.34,244.51 L485.38,242.68 L488.42,240.84 L491.46,239.00 L494.50,237.16 L497.54,235.32 L500.58,233.48 L503.62,231.64 L506.66,229.80 L509.70,227.96 L512.74,226.12 L515.78,224.28 L518.82,222.45 L521.86,220.62 L524.90,218.80 L527.94,216.98 L530.98,215.17 L534.02,213.36 L537.05,211.56 L540.09,209.77 L543.13,207.99 L546.17,206.22 L549.21,204.45 L552.25,202.70 L555.29,200.96 L558.33,199.23 L561.37,197.52 L564.41,195.81 L567.45,194.13 L570.49,192.45 L573.53,190.80 L576.57,189.15 L579.61,187.53 L582.65,185.92 L585.69,184.33 L588.73,182.76 L591.77,181.21 L594.81,179.68 L597.85,178.17 L600.89,176.69 L603.93,175.22 L606.97,173.78 L610.01,172.36 L613.05,170.97 L616.09,169.60 L619.13,168.25 L622.17,166.93 L625.21,165.63 L628.25,164.35 L631.29,163.10 L634.33,161.87 L637.36,160.66 L640.40,159.48 L643.44,158.31 L646.48,157.17 L649.52,156.05 L652.56,154.95 L655.60,153.87 L658.64,152.82 L661.68,151.78 L664.72,150.77 L667.76,149.78 L670.80,148.80 L673.84,147.85 L676.88,146.92 L679.92,146.01 L682.96,145.11 L686.00,144.24" stroke="#e80000" stroke-width="2.5" fill="none" stroke-linejoin="round" clip-path="url(#pc)"/>
</svg>
</body></html>
